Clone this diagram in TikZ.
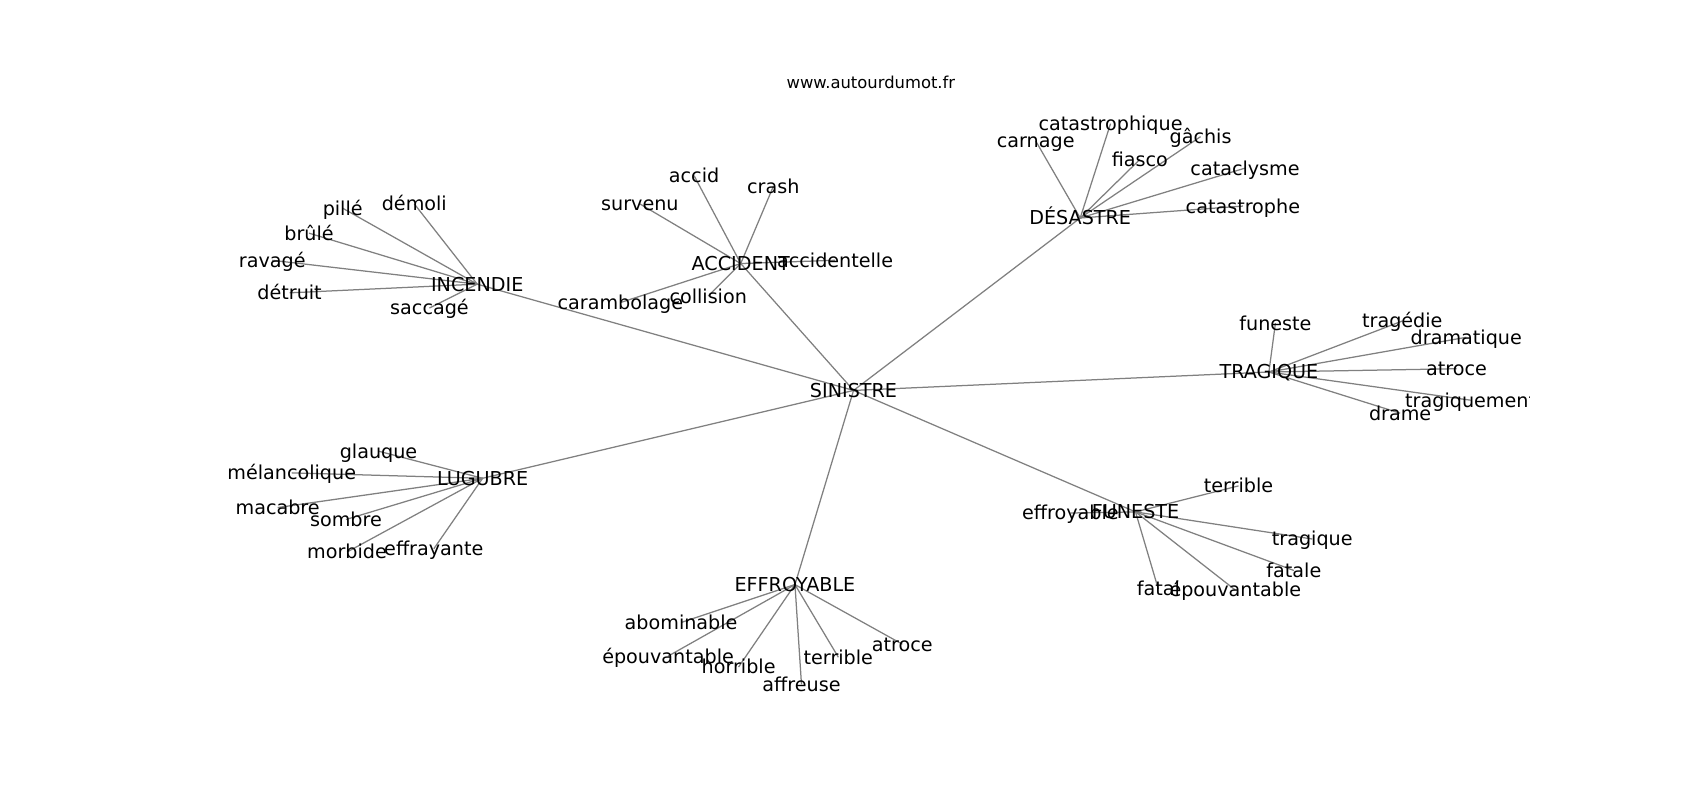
\documentclass[tikz,border=0pt]{standalone}
\usepackage{fontspec}
\setmainfont{DejaVu Sans}
\usetikzlibrary{backgrounds}

\begin{document}
\begin{tikzpicture}[x=0.781pt, y=-0.781pt,
        word/.style={font=\fontsize{13.8}{16}\selectfont, inner sep=0pt, text height=10pt, text depth=0pt},
        edge/.style={draw=gray, line width=0.9pt}]
        \useasboundingbox (0, 0) rectangle (1567.5, 737.6);

        % title
        \node[font=\fontsize{11.8}{14}\selectfont] (site) at (803, 76) {www.autourdumot.fr};

        % center and hubs
        \node[word] (sinistre)   at ( 787, 360) {SINISTRE};
        \node[word] (incendie)   at ( 440, 262) {INCENDIE};
        \node[word] (accident)   at ( 683, 243) {ACCIDENT};
        \node[word] (desastre)   at ( 996, 201) {DÉSASTRE};
        \node[word] (tragique)   at (1170, 343) {TRAGIQUE};
        \node[word] (lugubre)    at ( 445, 441) {LUGUBRE};
        \node[word] (effroyable) at ( 733, 539) {EFFROYABLE};
        \node[word] (funeste)    at (1047, 472) {FUNESTE};

        % INCENDIE words
        \node[word] (pille)   at (316, 192) {pillé};
        \node[word] (demoli)  at (382, 188) {démoli};
        \node[word] (brule)   at (285, 215) {brûlé};
        \node[word] (ravage)  at (251, 240) {ravagé};
        \node[word] (detruit) at (267, 270) {détruit};
        \node[word] (saccage) at (396, 284) {saccagé};

        % ACCIDENT words
        \node[word] (accid)        at (640, 162) {accid};
        \node[word] (crash)        at (713, 172) {crash};
        \node[word] (survenu)      at (590, 188) {survenu};
        \node[word] (accidentelle) at (770, 240) {accidentelle};
        \node[word] (carambolage)  at (572, 279) {carambolage};
        \node[word] (collision)    at (653, 273) {collision};

        % DÉSASTRE words
        \node[word] (catastrophique) at (1024, 114) {catastrophique};
        \node[word] (carnage)        at ( 955, 130) {carnage};
        \node[word] (gachis)         at (1107, 126) {gâchis};
        \node[word] (fiasco)         at (1051, 147) {fiasco};
        \node[word] (cataclysme)     at (1148, 155) {cataclysme};
        \node[word] (catastrophe)    at (1146, 190) {catastrophe};

        % TRAGIQUE words
        \node[word] (funesteA)   at (1176, 298) {funeste};
        \node[word] (tragedie)   at (1293, 296) {tragédie};
        \node[word] (dramatique) at (1352, 311) {dramatique};
        \node[word] (atroceA)    at (1343, 340) {atroce};
        \node[word] (drame)      at (1291, 381) {drame};
        \begin{scope}
            \clip (0, 0) rectangle (1410.7, 737.6);
            \node[word] (tragiquement) at (1356, 369) {tragiquement};
        \end{scope}

        % LUGUBRE words
        \node[word] (glauque)      at (349, 416) {glauque};
        \node[word] (melancolique) at (269, 436) {mélancolique};
        \node[word] (macabre)      at (256, 468) {macabre};
        \node[word] (sombre)       at (319, 479) {sombre};
        \node[word] (morbide)      at (320, 509) {morbide};
        \node[word] (effrayante)   at (400, 506) {effrayante};

        % EFFROYABLE words
        \node[word] (abominable)    at (628, 574) {abominable};
        \node[word] (epouvantableA) at (616, 605) {épouvantable};
        \node[word] (horrible)      at (681, 615) {horrible};
        \node[word] (affreuse)      at (739, 631) {affreuse};
        \node[word] (terribleA)     at (773, 606) {terrible};
        \node[word] (atroceB)       at (832, 594) {atroce};

        % FUNESTE words
        \node[word] (terribleB)     at (1142, 448) {terrible};
        \node[word] (effroyableA)   at ( 987, 473) {effroyable};
        \node[word] (tragiqueA)     at (1210, 497) {tragique};
        \node[word] (fatale)        at (1193, 526) {fatale};
        \node[word] (fatal)         at (1068, 543) {fatal};
        \node[word] (epouvantableB) at (1139, 544) {épouvantable};

        % links behind the words
        \begin{scope}[on background layer]
            \fill[white] (0, 0) rectangle (1567.5, 737.6);

            \draw[edge] (sinistre.center) -- (incendie.center);
            \draw[edge] (sinistre.center) -- (accident.center);
            \draw[edge] (sinistre.center) -- (desastre.center);
            \draw[edge] (sinistre.center) -- (tragique.center);
            \draw[edge] (sinistre.center) -- (lugubre.center);
            \draw[edge] (sinistre.center) -- (effroyable.center);
            \draw[edge] (sinistre.center) -- (funeste.center);

            \draw[edge] (incendie.center) -- (pille.center);
            \draw[edge] (incendie.center) -- (demoli.center);
            \draw[edge] (incendie.center) -- (brule.center);
            \draw[edge] (incendie.center) -- (ravage.center);
            \draw[edge] (incendie.center) -- (detruit.center);
            \draw[edge] (incendie.center) -- (saccage.center);

            \draw[edge] (accident.center) -- (accid.center);
            \draw[edge] (accident.center) -- (crash.center);
            \draw[edge] (accident.center) -- (survenu.center);
            \draw[edge] (accident.center) -- (accidentelle.center);
            \draw[edge] (accident.center) -- (carambolage.center);
            \draw[edge] (accident.center) -- (collision.center);

            \draw[edge] (desastre.center) -- (catastrophique.center);
            \draw[edge] (desastre.center) -- (carnage.center);
            \draw[edge] (desastre.center) -- (gachis.center);
            \draw[edge] (desastre.center) -- (fiasco.center);
            \draw[edge] (desastre.center) -- (cataclysme.center);
            \draw[edge] (desastre.center) -- (catastrophe.center);

            \draw[edge] (tragique.center) -- (funesteA.center);
            \draw[edge] (tragique.center) -- (tragedie.center);
            \draw[edge] (tragique.center) -- (dramatique.center);
            \draw[edge] (tragique.center) -- (atroceA.center);
            \draw[edge] (tragique.center) -- (tragiquement.center);
            \draw[edge] (tragique.center) -- (drame.center);

            \draw[edge] (lugubre.center) -- (glauque.center);
            \draw[edge] (lugubre.center) -- (melancolique.center);
            \draw[edge] (lugubre.center) -- (macabre.center);
            \draw[edge] (lugubre.center) -- (sombre.center);
            \draw[edge] (lugubre.center) -- (morbide.center);
            \draw[edge] (lugubre.center) -- (effrayante.center);

            \draw[edge] (effroyable.center) -- (abominable.center);
            \draw[edge] (effroyable.center) -- (epouvantableA.center);
            \draw[edge] (effroyable.center) -- (horrible.center);
            \draw[edge] (effroyable.center) -- (affreuse.center);
            \draw[edge] (effroyable.center) -- (terribleA.center);
            \draw[edge] (effroyable.center) -- (atroceB.center);

            \draw[edge] (funeste.center) -- (terribleB.center);
            \draw[edge] (funeste.center) -- (effroyableA.center);
            \draw[edge] (funeste.center) -- (tragiqueA.center);
            \draw[edge] (funeste.center) -- (fatale.center);
            \draw[edge] (funeste.center) -- (fatal.center);
            \draw[edge] (funeste.center) -- (epouvantableB.center);
        \end{scope}
\end{tikzpicture}
\end{document}
